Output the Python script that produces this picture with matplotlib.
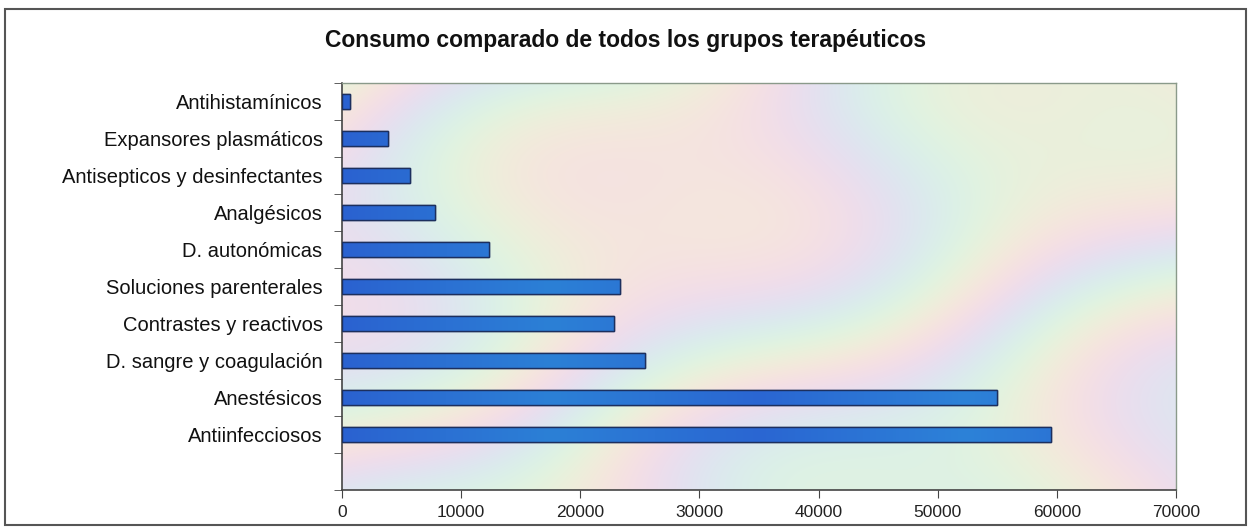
import numpy as np
import matplotlib.pyplot as plt
from matplotlib.patches import Rectangle

plt.rcParams['font.family'] = ['Liberation Sans', 'DejaVu Sans']

# datos (de abajo hacia arriba)
grupos = ['Antiinfecciosos', 'Anestésicos', 'D. sangre y coagulación',
          'Contrastes y reactivos', 'Soluciones parenterales', 'D. autonómicas',
          'Analgésicos', 'Antisepticos y desinfectantes', 'Expansores plasmáticos',
          'Antihistamínicos']
consumo = [59500, 55000, 25400, 22800, 23300, 12300, 7800, 5700, 3900, 650]
xticks = [0, 10000, 20000, 30000, 40000, 50000, 60000, 70000]

fig = plt.figure(figsize=(12.51, 5.28), dpi=100)
fig.patch.set_facecolor('white')
ax = fig.add_axes([0.2734, 0.072, 0.6667, 0.771])

# fondo pastel tipo "arco iris" de Excel
gx, gy = np.meshgrid(np.linspace(0, 1, 400), np.linspace(0, 1, 200))
t = 2.2 * gx + 1.3 * gy + 0.3 * np.sin(7 * gy + 3 * gx) + 0.15 * np.sin(11 * gx - 4 * gy)
r = 0.91 + 0.05 * np.sin(2 * np.pi * t)
g = 0.91 + 0.04 * np.sin(2 * np.pi * t + 2.1)
b = 0.90 + 0.04 * np.sin(2 * np.pi * t + 4.2)
bg = np.clip(np.dstack([r, g, b]), 0, 1)
ax.imshow(bg, extent=[0, 70000, -1.5, 9.5], aspect='auto', zorder=0,
          interpolation='bicubic')

y = np.arange(len(grupos))
bars = ax.barh(y, consumo, height=0.42, color='#2a76d6', edgecolor='#1c2f5e',
               linewidth=1.0, zorder=2)

# degradado dentro de cada barra
grad = np.linspace(0, 1, 256).reshape(1, -1)
cm = plt.matplotlib.colors.LinearSegmentedColormap.from_list(
    'b', ['#2a62d0', '#2c80d6', '#2a66d2', '#2d82d8', '#2a62d0'])
for bar in bars:
    im = ax.imshow(grad, extent=[0, 70000, bar.get_y(), bar.get_y() + bar.get_height()],
                   aspect='auto', cmap=cm, zorder=2)
    im.set_clip_path(bar)
    ax.add_patch(Rectangle((bar.get_x(), bar.get_y()), bar.get_width(), bar.get_height(),
                           fill=False, edgecolor='#1c2f5e', linewidth=1.0, zorder=3))

ax.set_xlim(0, 70000)
ax.set_ylim(-1.5, 9.5)
ax.set_xticks(xticks)
ax.set_xticklabels([str(v) for v in xticks], fontsize=12.5, color='#222222')
ax.set_yticks(y)
ax.set_yticklabels(grupos, fontsize=14.5, color='#111111')
ax.tick_params(axis='y', length=0, pad=14)
ax.set_yticks(np.arange(-1.5, 10, 1), minor=True)
ax.tick_params(axis='y', which='minor', length=6, direction='out', color='#444444')
ax.tick_params(axis='x', length=6, direction='out', color='#444444', pad=5)

for s in ['left', 'bottom']:
    ax.spines[s].set_color('#444444')
    ax.spines[s].set_linewidth(1.2)
for s in ['top', 'right']:
    ax.spines[s].set_color('#8a9a8a')
    ax.spines[s].set_linewidth(1.0)

fig.text(0.5, 0.924, 'Consumo comparado de todos los grupos terapéuticos',
         ha='center', va='center', fontsize=16.5, fontweight='bold', color='#111111')

# marco exterior
fig.add_artist(Rectangle((0.004, 0.005), 0.992, 0.978, transform=fig.transFigure,
                         fill=False, edgecolor='#555555', linewidth=1.5))

plt.savefig('out.png', dpi=100)
